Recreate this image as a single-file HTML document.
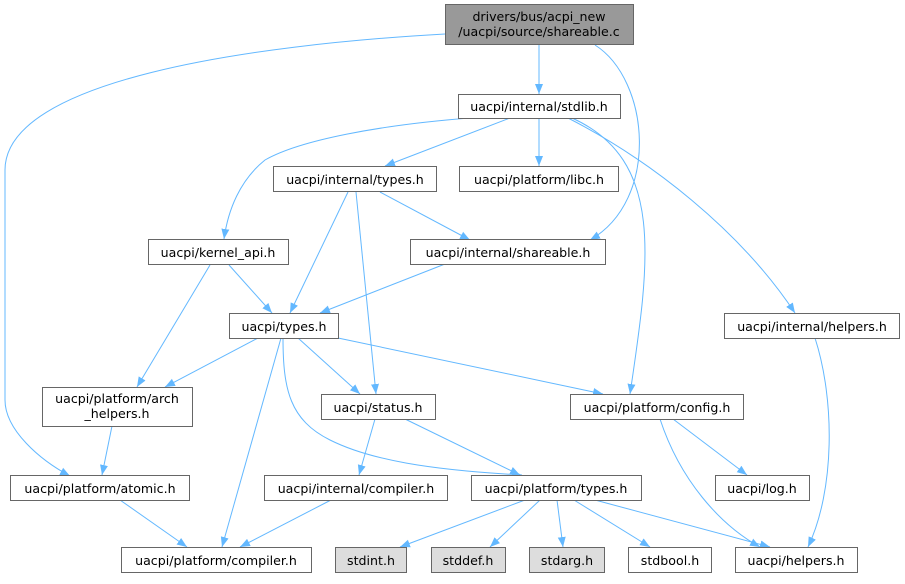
<!DOCTYPE html>
<html><head><meta charset="utf-8"><style>
body{margin:0;background:#fff}
svg text{font-family:"DejaVu Sans","Liberation Sans",sans-serif;font-size:12.6px;fill:#000}
</style></head><body>
<svg width="905" height="579" viewBox="0 0 905 579" xmlns="http://www.w3.org/2000/svg">
<defs><marker id="a" viewBox="0 0 10 10" refX="10" refY="5" markerWidth="10" markerHeight="10" markerUnits="userSpaceOnUse" orient="auto"><path d="M0,1 L10,5 L0,9 z" fill="#63b8ff"/></marker></defs>
<g fill="none" stroke="#63b8ff" stroke-width="1" marker-end="url(#a)">
<path d="M539,45 L539,94"/>
<path d="M445,34 C250,45 5,80 5,170 L5,400 C5,430 40,460 70,476"/>
<path d="M595,45 C650,80 660,200 590,240"/>
<path d="M510,118 L385,166"/>
<path d="M539,118 L539,166"/>
<path d="M470,118 C380,125 300,140 265,160 C240,180 228,210 224,239"/>
<path d="M572,118 C665,160 650,260 630,394"/>
<path d="M568,118 C650,160 740,230 795,313"/>
<path d="M380,192 L470,240"/>
<path d="M348,192 L290,313"/>
<path d="M356,192 L376,394"/>
<path d="M210,265 L137,387"/>
<path d="M229,265 L272,313"/>
<path d="M445,264 L320,313"/>
<path d="M258,338 L165,387"/>
<path d="M281,338 L222,547"/>
<path d="M298,338 L360,394"/>
<path d="M338,338 L603,394"/>
<path d="M283,338 C283,390 290,420 330,440 C370,460 430,470 522,475"/>
<path d="M112,426 L102,475"/>
<path d="M120,500 L187,547"/>
<path d="M331,500 L240,547"/>
<path d="M375,419 L359,475"/>
<path d="M405,419 L520,475"/>
<path d="M673,419 L747,475"/>
<path d="M660,419 C680,480 720,525 760,547"/>
<path d="M815,338 C835,400 835,490 808,547"/>
<path d="M525,500 L400,547"/>
<path d="M540,500 L490,547"/>
<path d="M557,500 L563,547"/>
<path d="M574,500 L650,547"/>
<path d="M595,500 L770,547"/>
</g>
<g stroke="#666" stroke-width="1">
<rect x="445.5" y="4.5" width="188" height="40" fill="#999"/>
<rect x="458.5" y="94.5" width="162" height="24" fill="#fff"/>
<rect x="273.5" y="166.5" width="163" height="25" fill="#fff"/>
<rect x="459.5" y="166.5" width="159" height="25" fill="#fff"/>
<rect x="148.5" y="239.5" width="140" height="25" fill="#fff"/>
<rect x="410.5" y="239.5" width="195" height="25" fill="#fff"/>
<rect x="724.5" y="313.5" width="175" height="25" fill="#fff"/>
<rect x="229.5" y="313.5" width="109" height="25" fill="#fff"/>
<rect x="42.5" y="387.5" width="150" height="39" fill="#fff"/>
<rect x="321.5" y="394.5" width="114" height="25" fill="#fff"/>
<rect x="570.5" y="394.5" width="173" height="25" fill="#fff"/>
<rect x="10.5" y="475.5" width="179" height="25" fill="#fff"/>
<rect x="264.5" y="475.5" width="183" height="25" fill="#fff"/>
<rect x="471.5" y="475.5" width="170" height="25" fill="#fff"/>
<rect x="715.5" y="475.5" width="94" height="25" fill="#fff"/>
<rect x="121.5" y="547.5" width="190" height="25" fill="#fff"/>
<rect x="335.5" y="547.5" width="71" height="25" fill="#ddd"/>
<rect x="431.5" y="547.5" width="74" height="25" fill="#ddd"/>
<rect x="529.5" y="547.5" width="75" height="25" fill="#ddd"/>
<rect x="628.5" y="547.5" width="83" height="25" fill="#fff"/>
<rect x="735.5" y="547.5" width="122" height="25" fill="#fff"/>
</g>
<g text-anchor="middle">
<text x="539" y="21">drivers/bus/acpi_new</text>
<text x="539" y="36">/uacpi/source/shareable.c</text>
<text x="539" y="111">uacpi/internal/stdlib.h</text>
<text x="355" y="184">uacpi/internal/types.h</text>
<text x="539" y="184">uacpi/platform/libc.h</text>
<text x="218" y="257">uacpi/kernel_api.h</text>
<text x="508" y="257">uacpi/internal/shareable.h</text>
<text x="812" y="331">uacpi/internal/helpers.h</text>
<text x="284" y="331">uacpi/types.h</text>
<text x="117" y="403">uacpi/platform/arch</text>
<text x="117" y="418">_helpers.h</text>
<text x="378" y="412">uacpi/status.h</text>
<text x="657" y="412">uacpi/platform/config.h</text>
<text x="100" y="493">uacpi/platform/atomic.h</text>
<text x="356" y="493">uacpi/internal/compiler.h</text>
<text x="556" y="493">uacpi/platform/types.h</text>
<text x="762" y="493">uacpi/log.h</text>
<text x="216" y="565">uacpi/platform/compiler.h</text>
<text x="371" y="565">stdint.h</text>
<text x="468" y="565">stddef.h</text>
<text x="567" y="565">stdarg.h</text>
<text x="670" y="565">stdbool.h</text>
<text x="796" y="565">uacpi/helpers.h</text>
</g>
</svg>
</body></html>
